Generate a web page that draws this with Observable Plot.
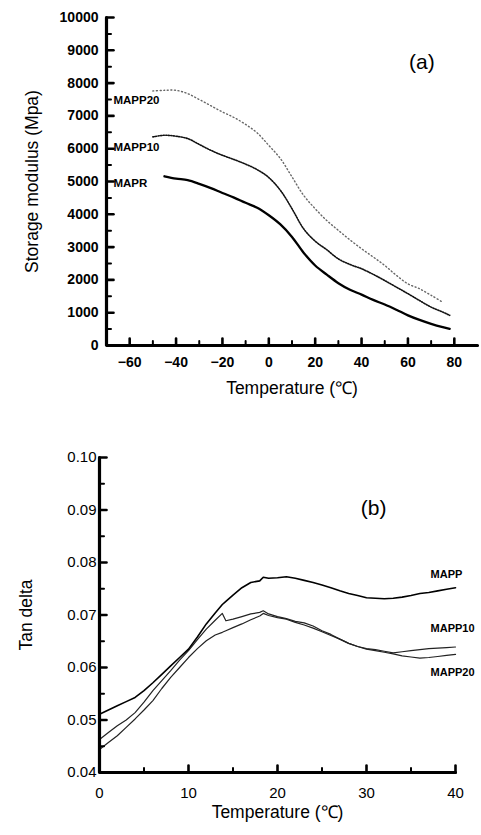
<!DOCTYPE html>
<html><head><meta charset="utf-8">
<script src="https://cdn.jsdelivr.net/npm/d3@7"></script>
<script src="https://cdn.jsdelivr.net/npm/@observablehq/plot@0.6"></script>
<style>body{margin:0;background:#fff}</style>
</head><body><div id="a"></div><div id="b" style="margin-top:10px"></div>
<script>
// ---- Panel (a): storage modulus ----
const tempA = [-50,-45,-40,-35,-30,-25,-20,-15,-10,-5,0,5,10,15,20,25,30,35,40,45,50,55,60,65,70,75,78];
const modMAPP   = [null,5160,5090,5040,4930,4800,4650,4510,4350,4200,3970,3690,3310,2830,2440,2160,1900,1700,1550,1390,1250,1090,920,780,660,560,510];
const modMAPP10 = [6360,6410,6380,6310,6130,5950,5800,5670,5530,5360,5120,4730,4170,3560,3180,2920,2640,2470,2340,2170,1980,1780,1580,1370,1170,1020,920];
const modMAPP20 = [7760,7780,7780,7680,7500,7310,7120,6950,6740,6480,6100,5700,5140,4580,4170,3810,3510,3220,2950,2700,2440,2140,1880,1730,1530,1320,null];
const mappStartA = -48;
const xDomainA = [-70, 90];
const yDomainA = [0, 10000];
const yTicksA = [0,1000,2000,3000,4000,5000,6000,7000,8000,9000,10000];
const yMinorA = [500,1500,2500,3500,4500,5500,6500,7500,8500,9500];
const xTicksA = [-60,-40,-20,0,20,40,60,80];
const xMinorA = [-50,-30,-10,10,30,50,70,90];
const labelsA = ["MAPP20","MAPP10","MAPR"];
const labelXA = [-67,-67,-67];
const labelYA = [7470,6040,4940];

// ---- Panel (b): tan delta ----
const tempB = [0,1,2,3,4,5,6,7,8,9,10,11,12,13,13.8,14.2,15,16,17,18,18.4,19,20,21,22,23,24,25,26,27,28,29,30,31,32,33,34,35,36,37,38,39,40];
const tanMAPP   = [0.0511,0.0519,0.0527,0.0535,0.0543,0.0556,0.0571,0.0587,0.0603,0.0619,0.0635,0.0658,0.0683,0.0704,0.0720,0.0726,0.0738,0.0752,0.0762,0.0765,0.0772,0.0770,0.0771,0.0773,0.0770,0.0766,0.0762,0.0757,0.0752,0.0746,0.0741,0.0737,0.0733,0.0732,0.0731,0.0732,0.0734,0.0737,0.0741,0.0743,0.0746,0.0749,0.0752];
const tanMAPP10 = [0.0463,0.0476,0.0489,0.0500,0.0514,0.0534,0.0556,0.0575,0.0594,0.0614,0.0632,0.0653,0.0673,0.0690,0.0703,0.0689,0.0692,0.0697,0.0702,0.0705,0.0708,0.0702,0.0697,0.0693,0.0688,0.0685,0.0679,0.0670,0.0663,0.0654,0.0646,0.0640,0.0636,0.0634,0.0631,0.0628,0.0630,0.0632,0.0634,0.0636,0.0637,0.0638,0.0639];
const tanMAPP20 = [0.0444,0.0457,0.0470,0.0486,0.0502,0.0519,0.0537,0.0560,0.0581,0.0600,0.0619,0.0636,0.0651,0.0662,0.0667,0.0670,0.0676,0.0683,0.0691,0.0698,0.0703,0.0699,0.0695,0.0692,0.0686,0.0681,0.0675,0.0668,0.0661,0.0654,0.0646,0.0640,0.0635,0.0632,0.0629,0.0626,0.0622,0.0620,0.0618,0.0619,0.0621,0.0623,0.0625];
const xDomainB = [0, 40];
const yDomainB = [0.04, 0.10];
const yTicksB = [0.04,0.05,0.06,0.07,0.08,0.09,0.10];
const yMinorB = [0.045,0.055,0.065,0.075,0.085,0.095];
const xTicksB = [0,10,20,30,40];
const xMinorB = [5,15,25,35];
const labelsB = ["MAPP","MAPP10","MAPP20"];
const labelXB = [37.2,37.2,37.2];
const labelYB = [0.0777,0.0674,0.0590];

const STYLE = "font-family: 'Liberation Sans', Arial, sans-serif; background: #fff; color: #000;";

function rows(t, vals, name) {
  return t.map((x, i) => ({t: x, v: vals[i], s: name})).filter(d => d.v != null);
}

// axis lines and inward ticks drawn as line paths through the scales
// plotW/plotH: inner plot size in px, used to express tick length in data units
function axisPaths(xd, yd, yMaj, yMin, xMaj, xMin, plotW, plotH) {
  const ux = (xd[1] - xd[0]) / plotW, uy = (yd[1] - yd[0]) / plotH;
  const axis = [{x: xd[0], y: yd[1]}, {x: xd[0], y: yd[0]}, {x: xd[1], y: yd[0]}];
  const segs = [];
  yMaj.forEach((v, i) => { segs.push({x: xd[0], y: v, k: "ya" + i, w: 2.6}, {x: xd[0] + 7 * ux, y: v, k: "ya" + i, w: 2.6}); });
  yMin.forEach((v, i) => { segs.push({x: xd[0], y: v, k: "yb" + i, w: 2}, {x: xd[0] + 4.5 * ux, y: v, k: "yb" + i, w: 2}); });
  xMaj.forEach((v, i) => { segs.push({x: v, y: yd[0], k: "xa" + i, w: 2.6}, {x: v, y: yd[0] + 7 * uy, k: "xa" + i, w: 2.6}); });
  xMin.filter(v => v < xd[1]).forEach((v, i) => { segs.push({x: v, y: yd[0], k: "xb" + i, w: 2}, {x: v, y: yd[0] + 4.5 * uy, k: "xb" + i, w: 2}); });
  return [
    Plot.line(axis, {x: "x", y: "y", stroke: "#000", strokeWidth: 3.2, strokeLinejoin: "miter"}),
    Plot.line(segs.filter(d => d.w > 2.2), {x: "x", y: "y", z: "k", stroke: "#000", strokeWidth: 2.6}),
    Plot.line(segs.filter(d => d.w <= 2.2), {x: "x", y: "y", z: "k", stroke: "#000", strokeWidth: 2})
  ];
}

const dataA = [
  ...rows([mappStartA, ...tempA.slice(1)], modMAPP, "MAPP"),
  ...rows(tempA, modMAPP10, "MAPP10"),
  ...rows(tempA, modMAPP20, "MAPP20")
];
const labA = labelsA.map((l, i) => ({l, x: labelXA[i], y: labelYA[i]}));

const plotA = Plot.plot({
  width: 481, height: 400,
  marginLeft: 106, marginRight: 4, marginTop: 17, marginBottom: 55,
  style: STYLE,
  x: {domain: xDomainA},
  y: {domain: yDomainA},
  marks: [
    Plot.line(dataA.filter(d => d.s === "MAPP20"), {x: "t", y: "v", stroke: "#666", strokeWidth: 1.4, strokeDasharray: "1,2.6", curve: "catmull-rom"}),
    Plot.line(dataA.filter(d => d.s === "MAPP10"), {x: "t", y: "v", stroke: "#111", strokeWidth: 1.6, strokeDasharray: "1.2,1.4", curve: "catmull-rom"}),
    Plot.line(dataA.filter(d => d.s === "MAPP"), {x: "t", y: "v", stroke: "#000", strokeWidth: 2.3, curve: "catmull-rom"}),
    ...axisPaths(xDomainA, yDomainA, yTicksA, yMinorA, xTicksA, xMinorA, 481 - 106 - 4, 400 - 17 - 55),
    Plot.axisY({ticks: yTicksA, tickSize: 0, tickPadding: 8, fontSize: 14, fontWeight: "bold", tickFormat: d3.format("d"), label: null}),
    Plot.axisY({ticks: [], label: "Storage modulus (Mpa)", labelAnchor: "center", labelArrow: "none", labelOffset: 81, fontSize: 17.5, tickSize: 0}),
    Plot.axisX({ticks: xTicksA, tickSize: 0, tickPadding: 12, fontSize: 14, fontWeight: "bold", label: null}),
    Plot.axisX({ticks: [], label: "Temperature (℃)", labelAnchor: "center", labelArrow: "none", labelOffset: 48, fontSize: 17.5, tickSize: 0}),
    Plot.text(labA, {x: "x", y: "y", text: "l", textAnchor: "start", fontSize: 11.5, fontWeight: "bold", fill: "#000"}),
    Plot.text(["(a)"], {x: 66, y: 8630, text: d => d, fontSize: 21, fill: "#000"})
  ]
});
document.getElementById("a").append(plotA);

const dataB = [
  ...rows(tempB, tanMAPP, "MAPP"),
  ...rows(tempB, tanMAPP10, "MAPP10"),
  ...rows(tempB, tanMAPP20, "MAPP20")
];
const labB = labelsB.map((l, i) => ({l, x: labelXB[i], y: labelYB[i]}));

const plotB = Plot.plot({
  width: 481, height: 425,
  marginLeft: 99, marginRight: 26, marginTop: 47, marginBottom: 63,
  style: STYLE + " overflow: visible;",
  x: {domain: xDomainB},
  y: {domain: yDomainB},
  marks: [
    Plot.line(dataB.filter(d => d.s === "MAPP20"), {x: "t", y: "v", stroke: "#222", strokeWidth: 1.2}),
    Plot.line(dataB.filter(d => d.s === "MAPP10"), {x: "t", y: "v", stroke: "#222", strokeWidth: 1.2}),
    Plot.line(dataB.filter(d => d.s === "MAPP"), {x: "t", y: "v", stroke: "#000", strokeWidth: 1.6}),
    ...axisPaths(xDomainB, yDomainB, yTicksB, yMinorB, xTicksB, xMinorB, 481 - 99 - 26, 425 - 47 - 63),
    Plot.axisY({ticks: yTicksB, tickSize: 0, tickPadding: 3, fontSize: 15, tickFormat: d3.format(".2f"), label: null}),
    Plot.axisY({ticks: [], label: "Tan delta", labelAnchor: "center", labelArrow: "none", labelOffset: 80, fontSize: 17.5, tickSize: 0}),
    Plot.axisX({ticks: xTicksB, tickSize: 0, tickPadding: 15, fontSize: 15, label: null}),
    Plot.axisX({ticks: [], label: "Temperature (℃)", labelAnchor: "center", labelArrow: "none", labelOffset: 45, fontSize: 17.5, tickSize: 0}),
    Plot.text(labB, {x: "x", y: "y", text: "l", textAnchor: "start", fontSize: 11, fontWeight: "bold", fill: "#000"}),
    Plot.text(["(b)"], {x: 30.8, y: 0.0903, text: d => d, fontSize: 21, fill: "#000"})
  ]
});
document.getElementById("b").append(plotB);
</script>
</body></html>
